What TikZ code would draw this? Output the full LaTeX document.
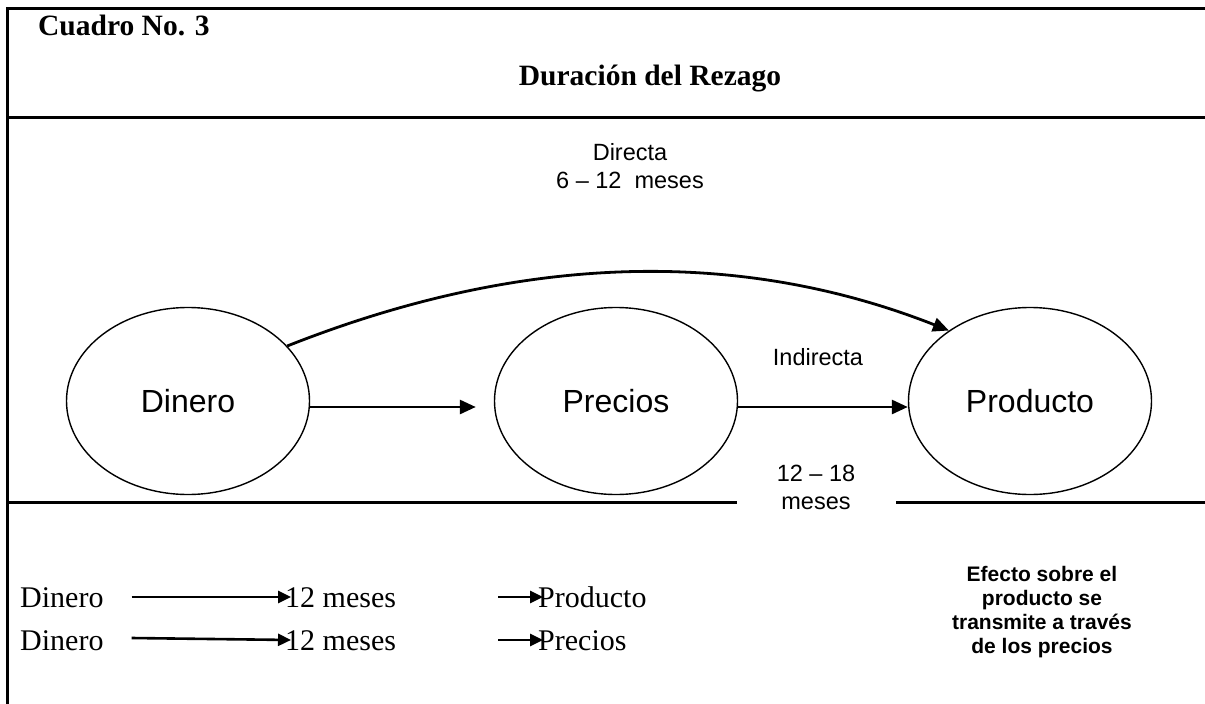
\documentclass[tikz,border=0pt]{standalone}
\usepackage{fontspec}
\setmainfont{Liberation Serif}
\setsansfont{Liberation Sans}
\usetikzlibrary{shapes}
\usetikzlibrary{arrows.meta}
\tikzstyle{frame}=[line width=3pt]
\tikzstyle{bubble}=[draw, ellipse, line width=1.4pt, minimum width=243pt, minimum height=187pt, font=\sffamily\fontsize{32}{38}\selectfont]
\tikzstyle{lbl}=[align=center, inner sep=0pt, font=\sffamily\fontsize{23.5}{28}\selectfont]
\tikzstyle{row}=[anchor=base west, inner sep=0pt, font=\fontsize{30}{36}\selectfont]
\tikzstyle{bigarrow}=[-{Triangle[length=16pt,width=14pt]}, line width=2.8pt]
\tikzstyle{rowarrow}=[-{Triangle[length=13pt,width=12pt]}, line width=2.6pt]

\begin{document}
\begin{tikzpicture}[x=1pt, y=-1pt]
 \useasboundingbox (0,0) rectangle (1205,704);
 \draw[frame] (1205,8) -- (7,8) -- (7,704);
 \draw[frame] (7,117) -- (1205,117);
 \draw[frame] (7,502) -- (737,502);
 \draw[frame] (896,502) -- (1205,502);
%
 \node[anchor=base west, inner sep=0pt, font=\bfseries\fontsize{29.5}{35}\selectfont] (cuadro) at (38,35) {Cuadro No. 3};
 \node[anchor=base, inner sep=0pt, font=\bfseries\fontsize{29.5}{35}\selectfont] (titulo) at (650,85) {Duración del Rezago};
%
 \node[bubble] (dinero) at (188,401) {Dinero};
 \node[bubble] (precios) at (616,401) {Precios};
 \node[bubble] (producto) at (1030,401) {Producto};
 \node[lbl] (directa) at (630,166) {Directa\\6 – 12~~meses};
 \node[lbl] (indirecta) at (818,357) {Indirecta};
 \node[lbl] (lapso) at (816,487) {12 – 18\\meses};
 \draw[bigarrow] (dinero.29) .. controls (560,238) and (775,262) .. (producto.139);
 \draw[bigarrow, shorten >=18pt] ([yshift=-6pt]dinero.east) -- ([yshift=-6pt]precios.west);
 \draw[bigarrow] ([yshift=-6pt]precios.east) -- ([yshift=-6pt]producto.west);
%
 \node[row] (dinA) at (20,607) {Dinero};
 \node[row] (mesA) at (285,607) {12 meses};
 \node[row] (prodA) at (538,607) {Producto};
 \node[row] (dinB) at (20,650) {Dinero};
 \node[row] (mesB) at (285,650) {12 meses};
 \node[row] (precB) at (538,650) {Precios};
 \draw[rowarrow] ([xshift=28pt,yshift=10pt]dinA.base east) -- ([xshift=6pt,yshift=10pt]mesA.base west);
 \draw[rowarrow] ([xshift=28pt,yshift=12pt]dinB.base east) -- ([xshift=6pt,yshift=10pt]mesB.base west);
 \draw[rowarrow] ([xshift=102pt,yshift=10pt]mesA.base east) -- ([xshift=5pt,yshift=10pt]prodA.base west);
 \draw[rowarrow] ([xshift=102pt,yshift=10pt]mesB.base east) -- ([xshift=5pt,yshift=10pt]precB.base west);
%
 \node[align=center, font=\sffamily\bfseries\fontsize{21}{24}\selectfont] (efecto) at (1042,612) {Efecto sobre el\\producto se\\transmite a través\\de los precios};
\end{tikzpicture}
\end{document}
